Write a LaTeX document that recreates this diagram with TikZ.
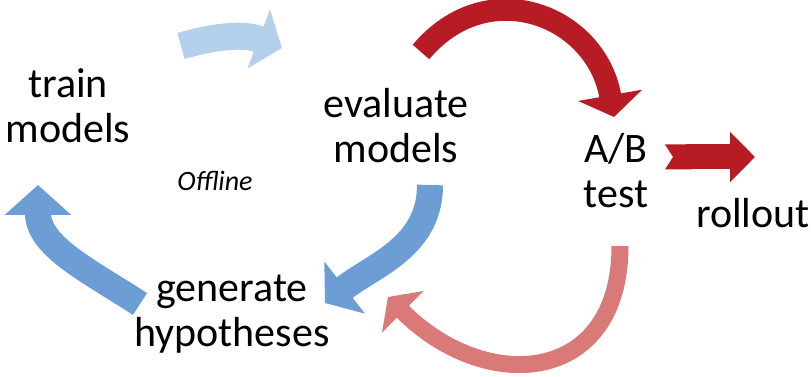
\documentclass[tikz,border=0pt]{standalone}
\usepackage{fontspec}
\setmainfont{Carlito}
\usetikzlibrary{arrows.meta}

\definecolor{paleblue}{RGB}{180,208,237}
\definecolor{midblue}{RGB}{108,157,213}
\definecolor{deepred}{RGB}{183,28,36}
\definecolor{softred}{RGB}{217,121,120}

\begin{document}
\begin{tikzpicture}[x=1pt,y=1pt,
  stage/.style={align=center, font=\fontsize{42}{45}\selectfont, inner sep=0pt, anchor=base},
  swoosh/.style n args={4}{draw=#1, line width=#2, -{Triangle[width=#3, length=#4]}}]

  \useasboundingbox (0,0) rectangle (811,377);

  \node[stage] (train) at (68,234) {train\\models};
  \node[stage] (evaluate) at (396,214) {evaluate\\models};
  \node[stage] (generate) at (232,30) {generate\\hypotheses};
  \node[stage] (abtest) at (616,169) {A/B\\test};
  \node[stage] (rollout) at (753,149) {rollout};
  \node[font=\fontsize{28}{30}\selectfont\itshape, anchor=base] (offline) at (215,186) {Offline};

  % ends of the block arrows
  \coordinate (a1) at (181,331);  \coordinate (b1) at (282,329);
  \coordinate (a2) at (421,325);  \coordinate (b2) at (614,260);
  \coordinate (a3) at (430,192);  \coordinate (b3) at (325,74);
  \coordinate (a4) at (140,73);   \coordinate (b4) at (38,192);
  \coordinate (a5) at (620,131);  \coordinate (b5) at (388,80);
  \coordinate (a6) at (665,220);  \coordinate (b6) at (755,220);

  \draw[swoosh={paleblue}{27pt}{62pt}{25pt}] (a1) to[out=16, in=159] (b1);
  \draw[swoosh={deepred}{22pt}{64pt}{22pt}] (a2) to[out=50, in=100, looseness=1.3] (b2);
  \draw[swoosh={midblue}{26pt}{65pt}{25pt}] (a3) to[out=-90, in=38] (b3);
  \draw[swoosh={midblue}{26pt}{65pt}{30pt}] (a4) to[out=147, in=-90] (b4);
  \draw[swoosh={softred}{17pt}{58pt}{21pt}] (a5) to[out=-90, in=-45, looseness=1.5] (b5);
  \draw[draw=deepred, line width=25pt, {Triangle Cap[reversed, length=8pt]}-{Triangle[width=49pt, length=25pt]}] (a6) -- (b6);

\end{tikzpicture}
\end{document}
